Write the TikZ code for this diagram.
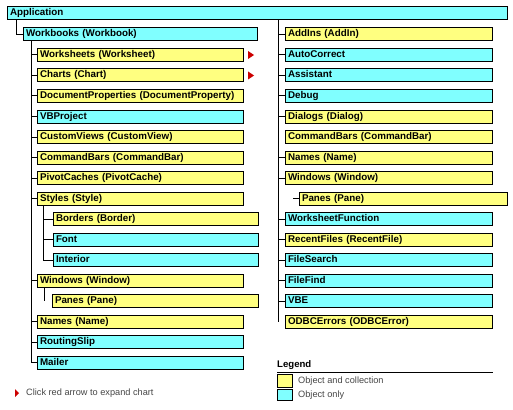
\documentclass[tikz,border=0pt]{standalone}
\usepackage{fontspec}
\setmainfont{Liberation Sans}
\definecolor{objcol}{RGB}{255,255,128}
\definecolor{objonly}{RGB}{128,255,255}
\definecolor{notegray}{RGB}{70,70,70}
\begin{document}
\begin{tikzpicture}[x=1pt,y=-1pt,
 box/.style={draw=black, line width=1pt, anchor=north west, minimum height=13pt,
   inner xsep=2.5pt, inner ysep=0pt, align=left, text height=7pt, text depth=2pt,
   font=\bfseries\fontsize{9.8}{10}\selectfont, text width=#1},
 coll/.style={box=#1, fill=objcol},
 only/.style={box=#1, fill=objonly},
 conn/.style={line width=1pt, draw=black},
 redarrow/.style={fill=red!80!black},
 note/.style={anchor=west, inner sep=0pt, text=notegray, font=\fontsize{9.2}{10}\selectfont},
 swatch/.style={draw=black, line width=1pt}
]
\useasboundingbox (0,0) rectangle (513,409);

% root
\node[only=495pt] (app) at (7,6) {Application};
\node[only=229pt] (wb) at (23,27.5) {Workbooks (Workbook)};

% left column
\node[coll=201pt] (ws)   at (37,48)    {Worksheets (Worksheet)};
\node[coll=201pt] (ch)   at (37,68.5)  {Charts (Chart)};
\node[coll=201pt] (dp)   at (37,89)    {DocumentProperties (DocumentProperty)};
\node[only=201pt] (vbp)  at (37,109.5) {VBProject};
\node[coll=201pt] (cv)   at (37,130)   {CustomViews (CustomView)};
\node[coll=201pt] (cbl)  at (37,150.5) {CommandBars (CommandBar)};
\node[coll=201pt] (pc)   at (37,171)   {PivotCaches (PivotCache)};
\node[coll=201pt] (st)   at (37,191.5) {Styles (Style)};
\node[coll=200pt] (bo)   at (53,212)   {Borders (Border)};
\node[only=200pt] (fo)   at (53,232.5) {Font};
\node[only=200pt] (in)   at (53,253)   {Interior};
\node[coll=201pt] (wil)  at (37,273.5) {Windows (Window)};
\node[coll=201pt] (pal)  at (52,294)   {Panes (Pane)};
\node[coll=201pt] (nal)  at (37,314.5) {Names (Name)};
\node[only=201pt] (rs)   at (37,335)   {RoutingSlip};
\node[only=201pt] (ml)   at (37,355.5) {Mailer};

% right column
\node[coll=202pt] (ai)   at (285,27.5)  {AddIns (AddIn)};
\node[only=202pt] (ac)   at (285,48)    {AutoCorrect};
\node[only=202pt] (as)   at (285,68.5)  {Assistant};
\node[only=202pt] (db)   at (285,89)    {Debug};
\node[coll=202pt] (dl)   at (285,109.5) {Dialogs (Dialog)};
\node[coll=202pt] (cbr)  at (285,130)   {CommandBars (CommandBar)};
\node[coll=202pt] (nar)  at (285,150.5) {Names (Name)};
\node[coll=202pt] (wir)  at (285,171)   {Windows (Window)};
\node[coll=203pt] (par)  at (299,191.5) {Panes (Pane)};
\node[only=202pt] (wf)   at (285,212)   {WorksheetFunction};
\node[coll=202pt] (rf)   at (285,232.5) {RecentFiles (RecentFile)};
\node[only=202pt] (fs)   at (285,253)   {FileSearch};
\node[only=202pt] (ff)   at (285,273.5) {FileFind};
\node[only=202pt] (vbe)  at (285,294)   {VBE};
\node[coll=202pt] (oe)   at (285,314.5) {ODBCErrors (ODBCError)};

% connectors
\draw[conn] ([xshift=9pt]app.south west) |- (wb.west);
\coordinate (lt) at ([xshift=8pt]wb.south west);
\foreach \n in {ws,ch,dp,vbp,cv,cbl,pc,st,wil,nal,rs,ml}
  \draw[conn] (lt) |- (\n.west);
\coordinate (stt) at ([xshift=6pt]st.south west);
\foreach \n in {bo,fo,in}
  \draw[conn] (stt) |- (\n.west);
\coordinate (wlt) at ([xshift=7pt]wil.south west);
\draw[conn] (wlt) -- (wlt |- pal.west);

\coordinate (rt) at ([xshift=271pt]app.south west);
\foreach \n in {ai,ac,as,db,dl,nar,wir,wf,rf,fs,ff,vbe}
  \draw[conn] (rt) |- (\n.west);
\draw[conn] (rt) -- (rt |- oe.west);
\draw[conn] ([xshift=-6pt]par.west) -- (par.west);

% red expand arrows
\fill[redarrow] ([xshift=4pt]ws.east) ++(0,-4) -- ++(6,4) -- ++(-6,4) -- cycle;
\fill[redarrow] ([xshift=4pt]ch.east) ++(0,-4) -- ++(6,4) -- ++(-6,4) -- cycle;

% note
\fill[redarrow] (15,389) -- (19,393) -- (15,397) -- cycle;
\node[note] (clicknote) at (26,393) {Click red arrow to expand chart};

% legend
\node[anchor=base west, inner sep=0pt, font=\bfseries\fontsize{9.6}{10}\selectfont] (legend) at (277,367) {Legend};
\draw[line width=1pt] (277,372) -- (493,372);
\filldraw[swatch, fill=objcol] (277.5,374.5) rectangle (292,387);
\filldraw[swatch, fill=objonly] (277.5,389) rectangle (292,400.5);
\node[note] (leg1) at (298,381) {Object and collection};
\node[note] (leg2) at (298,395) {Object only};
\end{tikzpicture}
\end{document}
